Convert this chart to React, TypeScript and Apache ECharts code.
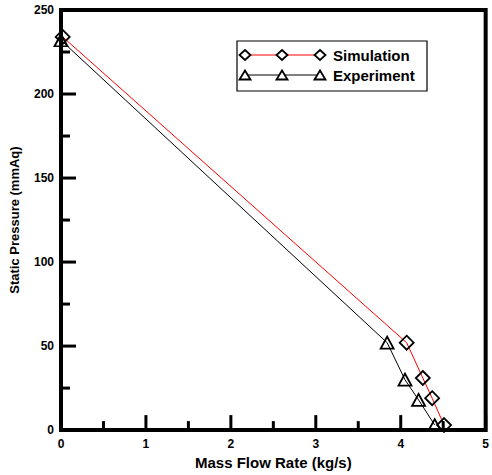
import React, { useEffect, useRef } from "react";
import * as echarts from "echarts";

const seriesNames = ["Simulation", "Experiment"];
const simX = [0.02, 4.07, 4.26, 4.37, 4.51];
const simY = [234, 52, 31, 19, 3];
const expX = [0, 3.84, 4.05, 4.21, 4.4];
const expY = [232, 52, 30, 18, 3];
const xTicks = [0, 1, 2, 3, 4, 5];
const xMinorTicks = [0.5, 1.5, 2.5, 3.5, 4.5];
const yTicks = [0, 50, 100, 150, 200, 250];
const yMinorTicks = [25, 75, 125, 175, 225];

const FONT = "Arial, 'Liberation Sans', Helvetica, sans-serif";
const MAJOR = 15;
const MINOR = 9;

function diamond(cx: number, cy: number, w: number, h: number) {
  return {
    type: "polygon",
    shape: { points: [[cx, cy - h / 2], [cx + w / 2, cy], [cx, cy + h / 2], [cx - w / 2, cy]] },
    style: { fill: "#fff", stroke: "#000", lineWidth: 1.8 },
    z: 10,
  };
}
function triangle(cx: number, cy: number, w: number, h: number) {
  return {
    type: "polygon",
    shape: { points: [[cx, cy - h / 2], [cx + w / 2, cy + h / 2], [cx - w / 2, cy + h / 2]] },
    style: { fill: "#fff", stroke: "#000", lineWidth: 1.8 },
    z: 10,
  };
}

export default function App() {
  const ref = useRef<HTMLDivElement>(null);
  useEffect(() => {
    if (!ref.current) return;
    const chart = echarts.init(ref.current, null, { renderer: "svg" });
    const legendRows = [
      { name: seriesNames[0], y: 55, color: "#ff0000", sym: diamond },
      { name: seriesNames[1], y: 75, color: "#000000", sym: triangle },
    ];
    const graphic: any[] = [
      {
        type: "rect",
        shape: { x: 237, y: 41, width: 190, height: 50 },
        style: { fill: "#fff", stroke: "#000", lineWidth: 1.2 },
        z: 5,
      },
    ];
    legendRows.forEach((r) => {
      graphic.push({
        type: "line",
        shape: { x1: 245, y1: r.y, x2: 320, y2: r.y },
        style: { stroke: r.color, lineWidth: 1 },
        z: 6,
      });
      [245, 282, 320].forEach((x) => graphic.push(r.sym(x, r.y, 11, r.sym === diamond ? 10 : 9)));
      graphic.push({
        type: "text",
        x: 333,
        y: r.y,
        style: {
          text: r.name,
          font: `bold 15px ${FONT}`,
          fill: "#000",
          verticalAlign: "middle",
          align: "left",
        },
        z: 10,
      });
    });

    const mkAxis = (interval: number, ticks: number[], name: string, gap: number, nameSize: number, margin: number) => ({
      type: "value",
      min: ticks[0],
      max: ticks[ticks.length - 1],
      interval,
      name,
      nameLocation: "middle",
      nameGap: gap,
      axisLine: { show: true, onZero: false, lineStyle: { color: "#000", width: 3 } },
      axisTick: { show: false },
      minorTick: { show: false },
      splitLine: { show: false },
      axisLabel: { color: "#000", fontSize: 12, fontWeight: "bold", fontFamily: FONT, margin },
      nameTextStyle: { color: "#000", fontWeight: "bold", fontFamily: FONT, fontSize: nameSize },
    });

    chart.setOption({
      animation: false,
      backgroundColor: "#fff",
      grid: {
        left: 61,
        top: 10,
        right: 2,
        bottom: 43,
        show: true,
        borderColor: "#000",
        borderWidth: 4,
      },
      xAxis: mkAxis(1, xTicks, "Mass Flow Rate (kg/s)", 19, 15, 8),
      yAxis: mkAxis(50, yTicks, "Static Pressure (mmAq)", 40, 13, 7),
      series: [
        {
          name: seriesNames[0],
          type: "line",
          data: simX.map((x, i) => [x, simY[i]]),
          symbol: "diamond",
          symbolSize: [14, 14],
          lineStyle: { color: "#ff0000", width: 1 },
          itemStyle: { color: "none", borderColor: "#000", borderWidth: 1.8 },
        },
        {
          name: seriesNames[1],
          type: "line",
          data: expX.map((x, i) => [x, expY[i]]),
          symbol: "triangle",
          symbolSize: [13, 12],
          lineStyle: { color: "#000", width: 1 },
          itemStyle: { color: "none", borderColor: "#000", borderWidth: 1.8 },
        },
      ],
      graphic,
    });

    // tick marks as filled rectangles, positioned through the chart's own scales
    const tickRects: any[] = [];
    const addX = (v: number, len: number) => {
      const p = chart.convertToPixel({ gridIndex: 0 }, [v, yTicks[0]]) as number[];
      tickRects.push({
        type: "rect",
        shape: { x: p[0] - 1.5, y: p[1] - len, width: 3, height: len },
        style: { fill: "#000" },
        z: 100,
        silent: true,
      });
    };
    const addY = (v: number, len: number) => {
      const p = chart.convertToPixel({ gridIndex: 0 }, [xTicks[0], v]) as number[];
      tickRects.push({
        type: "rect",
        shape: { x: p[0], y: p[1] - 1.5, width: len, height: 3 },
        style: { fill: "#000" },
        z: 100,
        silent: true,
      });
    };
    xTicks.forEach((v) => addX(v, MAJOR));
    xMinorTicks.forEach((v) => addX(v, MINOR));
    yTicks.forEach((v) => addY(v, MAJOR));
    yMinorTicks.forEach((v) => addY(v, MINOR));
    chart.setOption({ graphic: [...graphic, ...tickRects] });

    return () => chart.dispose();
  }, []);
  return (
    <div
      ref={ref}
      style={{ position: "absolute", left: 0, top: 0, width: 492, height: 475, background: "#fff" }}
    />
  );
}
